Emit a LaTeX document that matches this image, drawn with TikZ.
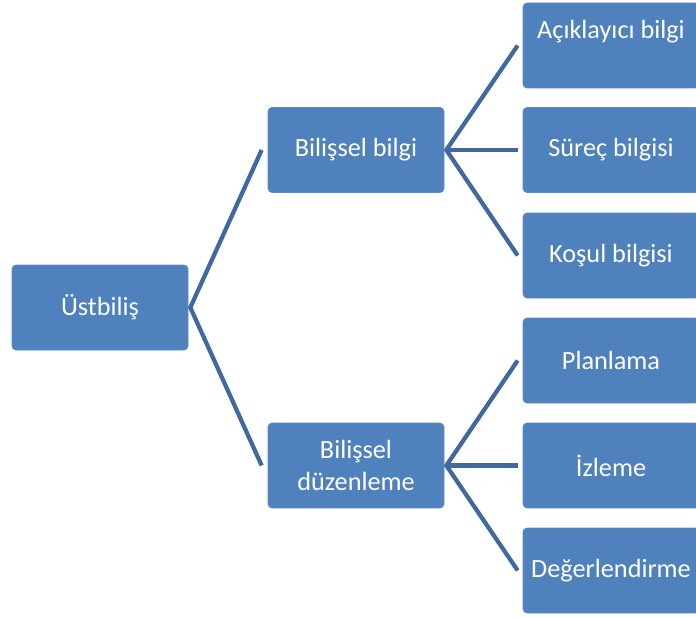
\documentclass[tikz,border=0pt]{standalone}
\usepackage{fontspec}
\setmainfont{Carlito}
\usetikzlibrary{calc}
\definecolor{boxblue}{HTML}{4F81BD}
\definecolor{boxedge}{HTML}{5B8BC4}
\definecolor{linkblue}{HTML}{41699F}
\tikzset{
  box/.style={fill=boxblue, draw=boxedge, line width=0.5pt, rounded corners=3pt,
    minimum width=176*0.75pt, minimum height=85*0.75pt, inner sep=0pt},
  lbl/.style={text=white, font=\fontsize{19.7}{23.5}\selectfont, align=center, inner sep=0pt},
  link/.style={draw=linkblue, line width=3.2pt, line cap=butt, line join=miter}
}
\begin{document}
\begin{tikzpicture}[x=0.75pt, y=-0.75pt]
\useasboundingbox (0,0) rectangle (696,617);
\clip (0,0) rectangle (696,617);
% boxes
\node[box] (u) at (100,307.5) {};
\node[box] (bb) at (356,150) {};
\node[box] (bd) at (356,465.5) {};
\node[box] (r1) at (611,45.5) {};
\node[box] (r2) at (611,150) {};
\node[box] (r3) at (611,255.5) {};
\node[box] (r4) at (611,360.5) {};
\node[box] (r5) at (611,465.5) {};
\node[box] (r6) at (611,570.5) {};
% labels
\node[lbl] (tu) at (u.center) {Üstbiliş};
\node[lbl] (tbb) at (bb.center) {Bilişsel bilgi};
\node[lbl] (tbd) at (bd.center) {Bilişsel\\düzenleme};
\node[lbl] (t1) at ($(r1.center)+(0,-14)$) {Açıklayıcı bilgi};
\node[lbl] (t2) at (r2.center) {Süreç bilgisi};
\node[lbl] (t3) at (r3.center) {Koşul bilgisi};
\node[lbl] (t4) at (r4.center) {Planlama};
\node[lbl] (t5) at (r5.center) {İzleme};
\node[lbl] (t6) at (r6.center) {Değerlendirme};
% connectors
\coordinate (uo) at ($(u.east)+(2,0)$);
\coordinate (bbo) at ($(bb.east)+(2,0)$);
\coordinate (bdo) at ($(bd.east)+(2,0)$);
\draw[link] ($(bb.west)+(-6,0)$) -- (uo) -- ($(bd.west)+(-6,0)$);
\draw[link] ($(r1.west)+(-5,0)$) -- (bbo) -- ($(r3.west)+(-5,0)$);
\draw[link] (bbo) -- ($(r2.west)+(-5,0)$);
\draw[link] ($(r4.west)+(-5,0)$) -- (bdo) -- ($(r6.west)+(-5,0)$);
\draw[link] (bdo) -- ($(r5.west)+(-5,0)$);
\end{tikzpicture}
\end{document}
